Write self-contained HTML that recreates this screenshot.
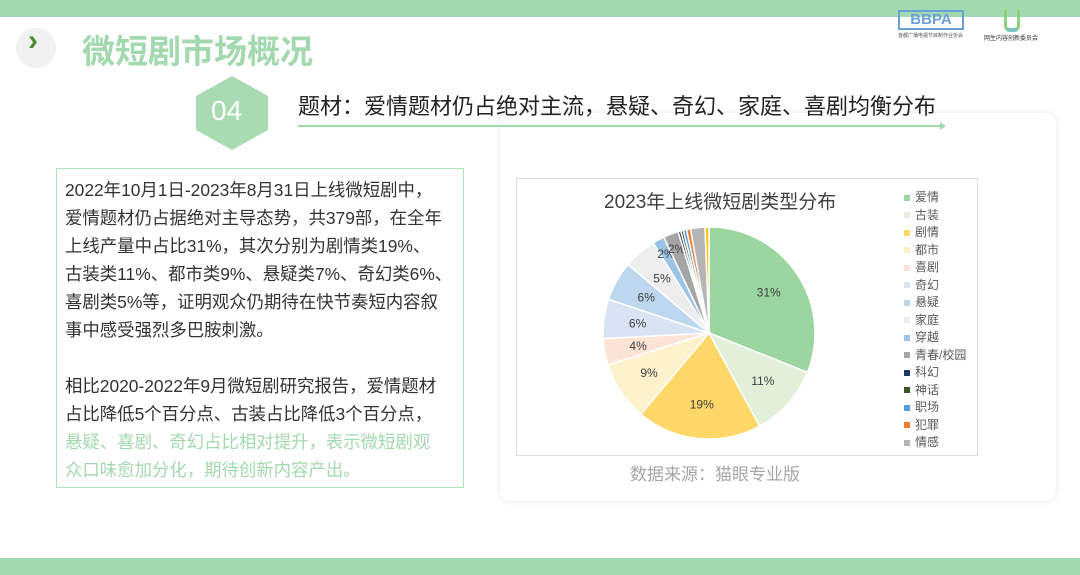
<!DOCTYPE html>
<html><head><meta charset="utf-8"><style>
body{margin:0;width:1080px;height:575px;background:#fff;position:relative;overflow:hidden;font-family:"Liberation Sans","Noto Sans CJK SC",sans-serif;}
.abs{position:absolute}
.txt{left:56px;top:168px;width:408px;height:320px;border:1px solid #b6e2bf;box-sizing:border-box}
.txt div{position:absolute;left:8px;font-size:17.4px;color:#333;white-space:nowrap;letter-spacing:0px}
</style></head><body>
<div class="abs" style="left:500px;top:113px;width:556px;height:388px;border-radius:10px;box-shadow:0 0 6px rgba(0,0,0,0.10);background:#fff"></div>
<div class="abs" style="left:0;top:0;width:1080px;height:17px;background:#a3d9ae"></div>
<div class="abs" style="left:0;top:558px;width:1080px;height:17px;background:#a3d9ae"></div>
<div class="abs" style="left:16px;top:28px;width:40px;height:40px;border-radius:50%;background:#f1f1f1"></div>
<div class="abs" style="left:28px;top:24px;font-size:30px;font-weight:bold;color:#4b8a2e">›</div>
<div class="abs" style="left:82px;top:25px;font-size:33px;font-weight:bold;color:#a3d9ae">微短剧市场概况</div>
<div class="abs" style="left:898px;top:10px;width:66px;height:20px;border:2px solid #6a9fd8;box-sizing:border-box;color:#6a9fd8;font-size:15px;font-weight:bold;text-align:center;line-height:16px">BBPA</div>
<div class="abs" style="left:898px;top:32px;font-size:5px;color:#555">首都广播电视节目制作业协会</div>
<div class="abs" style="left:1004px;top:10px;width:16px;height:22px;border-bottom:4px solid #7dc4c0;border-left:3px solid #8fd07a;border-right:3px solid #8fd07a;border-radius:0 0 6px 6px;box-sizing:border-box"></div>
<div class="abs" style="left:984px;top:33px;font-size:6px;color:#333">网生内容创新委员会</div>
<svg class="abs" style="left:0;top:0" width="1080" height="575">
<polygon points="232,76 268,96 268,130 232,150 196,130 196,96" fill="#a8dbb1"/>
<line x1="298" y1="126" x2="940" y2="126" stroke="#a3d9ae" stroke-width="2"/>
<polygon points="940,122 946,126 940,130" fill="#a3d9ae"/>
</svg>
<div class="abs" style="left:211px;top:95px;font-size:28px;color:#fff">04</div>
<div class="abs" style="left:298px;top:89px;font-size:22px;color:#222">题材：爱情题材仍占绝对主流，悬疑、奇幻、家庭、喜剧均衡分布</div>
<div class="abs txt">
<div style="top:8px">2022年10月1日-2023年8月31日上线微短剧中，</div>
<div style="top:36px">爱情题材仍占据绝对主导态势，共379部，在全年</div>
<div style="top:64px">上线产量中占比31%，其次分别为剧情类19%、</div>
<div style="top:92px">古装类11%、都市类9%、悬疑类7%、奇幻类6%、</div>
<div style="top:120px">喜剧类5%等，证明观众仍期待在快节奏短内容叙</div>
<div style="top:148px">事中感受强烈多巴胺刺激。</div>
<div style="top:204px">相比2020-2022年9月微短剧研究报告，爱情题材</div>
<div style="top:232px">占比降低5个百分点、古装占比降低3个百分点，</div>
<div style="top:260px;color:#a3d9ae">悬疑、喜剧、奇幻占比相对提升，表示微短剧观</div>
<div style="top:288px;color:#a3d9ae">众口味愈加分化，期待创新内容产出。</div>
</div>
<div class="abs" style="left:516px;top:178px;width:462px;height:278px;border:1px solid #ddd;box-sizing:border-box"></div>
<div class="abs" style="left:604px;top:187px;font-size:19px;color:#404040">2023年上线微短剧类型分布</div>
<svg id="pie" class="abs" style="left:0;top:0" width="1080" height="575"></svg>
<div class="abs" style="left:630px;top:460px;font-size:17px;color:#a6a6a6">数据来源：猫眼专业版</div>
<div id="leg" class="abs" style="left:904px;top:188px"></div>
<script>
var d=[[31,"#9bd5a0"],[11,"#e2efd9"],[19,"#fdd767"],[9,"#fef2cc"],[4,"#fbe4d5"],[6,"#dae3f3"],[6,"#bdd7ee"],[5,"#ededed"],[1.8,"#9dc3e6"],[2.3,"#a5a5a5"],[0.4,"#1f3864"],[0.4,"#375623"],[0.5,"#5b9bd5"],[0.6,"#ed7d31"],[2.2,"#b5b5b5"],[0.6,"#fcc419"]];
var labs=["31%","11%","19%","9%","4%","6%","6%","5%","2%","2%"];
var tot=0;d.forEach(function(x){tot+=x[0]});
var cx=709,cy=333,r=106,a=-Math.PI/2,s="";
d.forEach(function(x,i){var b=a+x[0]/tot*2*Math.PI;
var p="M"+cx+","+cy+"L"+(cx+r*Math.cos(a))+","+(cy+r*Math.sin(a))+"A"+r+","+r+" 0 "+(b-a>Math.PI?1:0)+" 1 "+(cx+r*Math.cos(b))+","+(cy+r*Math.sin(b))+"Z";
s+='<path d="'+p+'" fill="'+x[1]+'" stroke="#fff" stroke-width="1.5"/>';
if(i<10){var m=(a+b)/2,rr=i<8?0.68*r:0.85*r;s+='<text x="'+(cx+rr*Math.cos(m))+'" y="'+(cy+rr*Math.sin(m)+4)+'" font-size="12" text-anchor="middle" fill="#404040" font-family="Liberation Sans">'+labs[i]+'</text>';}
a=b;});
document.getElementById("pie").innerHTML=s;
var names=["爱情","古装","剧情","都市","喜剧","奇幻","悬疑","家庭","穿越","青春/校园","科幻","神话","职场","犯罪","情感"];
var cols=["#9bd5a0","#e2efd9","#fdd767","#fef2cc","#fbe4d5","#dae3f3","#bdd7ee","#ededed","#9dc3e6","#a5a5a5","#1f3864","#375623","#5b9bd5","#ed7d31","#b5b5b5"];
var h="";names.forEach(function(n,i){h+='<div style="position:absolute;left:0;top:'+(i*17.5)+'px;white-space:nowrap;font-size:12px;color:#595959"><span style="display:inline-block;width:6px;height:6px;background:'+cols[i]+';margin-right:5px;vertical-align:middle"></span>'+n+'</div>';});
document.getElementById("leg").innerHTML=h;
</script>
</body></html>
